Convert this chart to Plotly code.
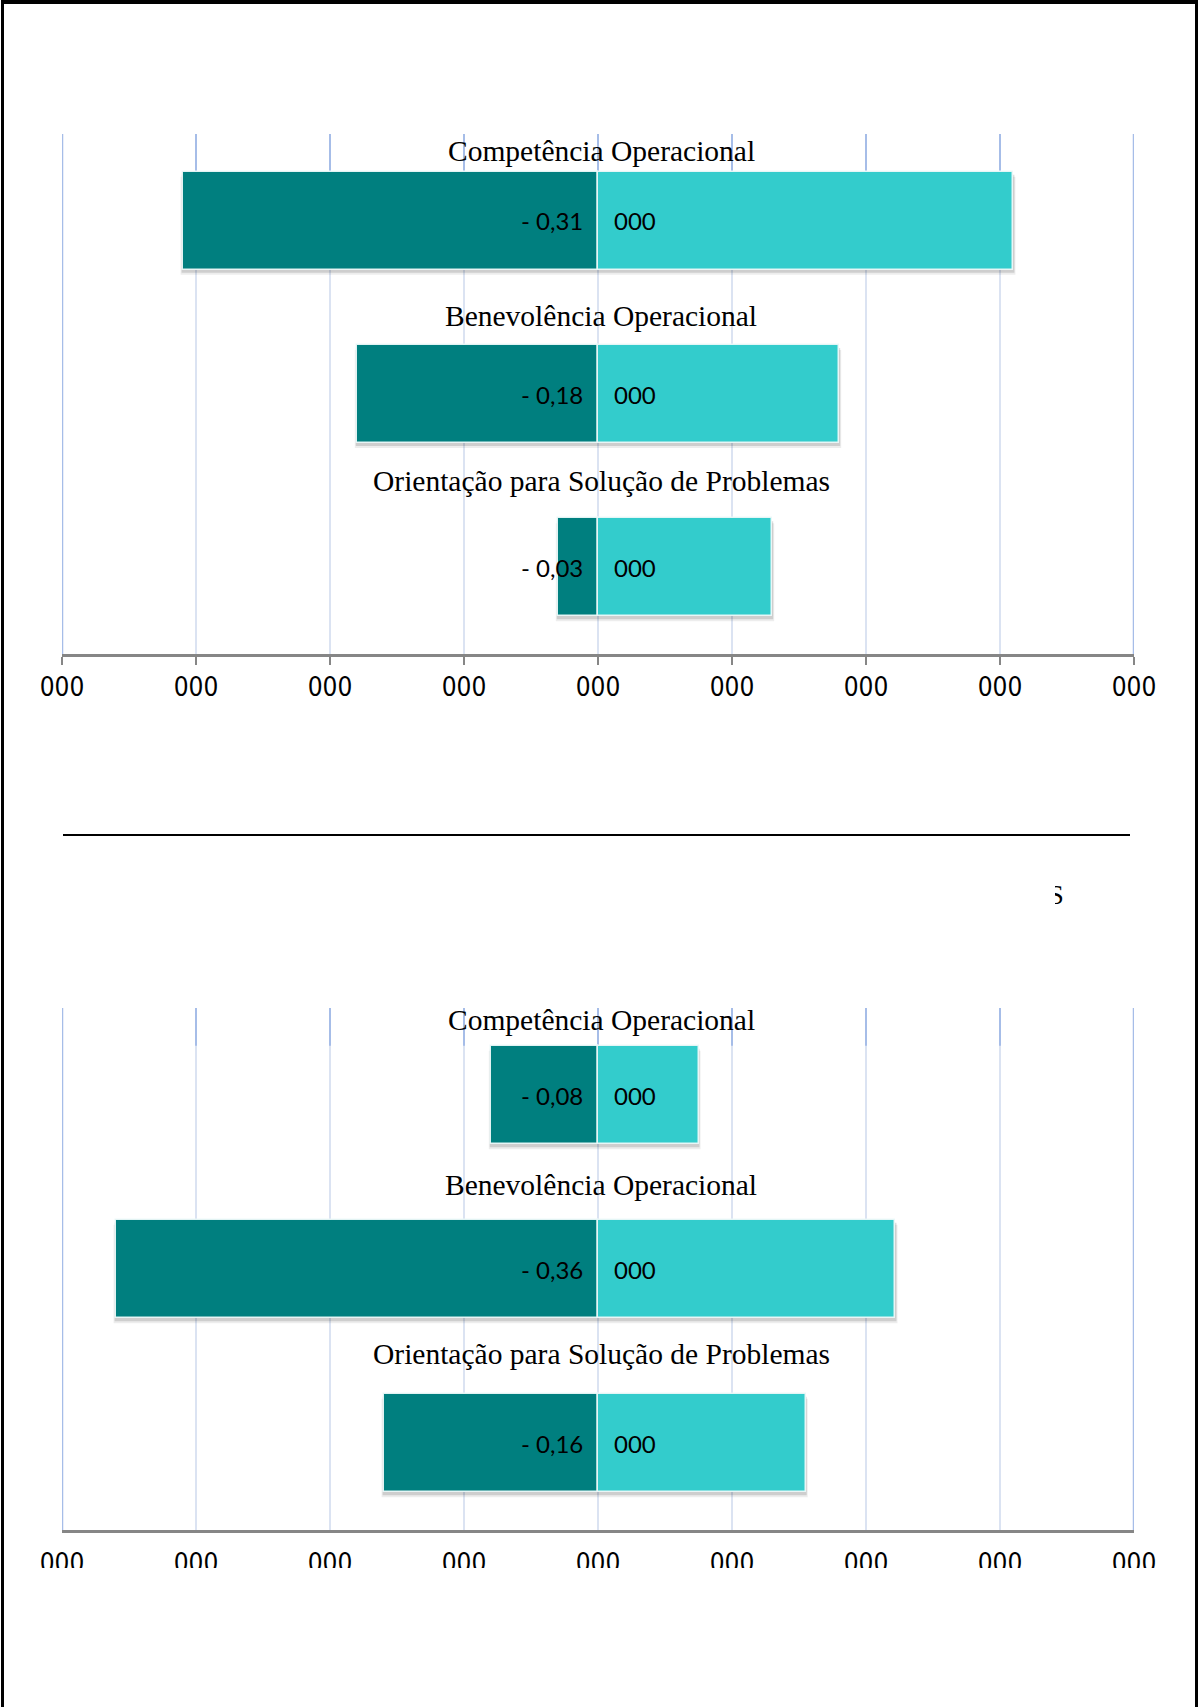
import plotly.graph_objects as go

# --- data -------------------------------------------------------------
CATEGORIES = ["Competência Operacional", "Benevolência Operacional",
              "Orientação para Solução de Problemas"]

TOP_NEG = [-0.31, -0.18, -0.03]
TOP_POS = [0.31, 0.18, 0.13]

BOTTOM_NEG = [-0.08, -0.36, -0.16]
BOTTOM_POS = [0.075, 0.222, 0.155]

POS_LABELS = ["000", "000", "000"]

TICK_VALUES = [-0.4, -0.3, -0.2, -0.1, 0.0, 0.1, 0.2, 0.3, 0.4]
TICK_LABELS = ["000"] * 9

# --- styling ------------------------------------------------------------
W, H = 1200, 1707
DARK = "#007f7f"
LIGHT = "#33cccc"
GRID = "#dbe3f2"
GRID_STRONG = "#a6bde8"
AXIS = "#868686"
BAR_W = 0.565
SERIF = "Liberation Serif, Times New Roman, serif"
SANS = "Lato, Carlito, Liberation Sans, sans-serif"
NARROW = "Liberation Sans Narrow, Arial Narrow, DejaVu Sans Condensed, sans-serif"

X_DOM = [62 / W, 1134 / W]
TOP_DOM = [1 - 654 / H, 1 - 134 / H]
BOT_DOM = [1 - 1530 / H, 1 - 1008 / H]

# distance (in category units) of each title above its bar centre
TITLE_OFFSETS_TOP = [0.40, 0.45, 0.50]
TITLE_OFFSETS_BOTTOM = [0.43, 0.48, 0.51]


def py(y):
    """pixel row -> paper y"""
    return 1 - y / H


fig = go.Figure()
shapes = []
annotations = []

panels = [
    ("x", "y", TOP_NEG, TOP_POS, TOP_DOM, TITLE_OFFSETS_TOP),
    ("x2", "y2", BOTTOM_NEG, BOTTOM_POS, BOT_DOM, TITLE_OFFSETS_BOTTOM),
]

idx = list(range(len(CATEGORIES)))
for xr, yr, neg, pos, dom, title_off in panels:
    fig.add_trace(go.Bar(
        x=neg, y=idx, orientation="h", width=BAR_W, xaxis=xr, yaxis=yr,
        marker=dict(color=DARK, line=dict(color="rgba(235,248,248,0.95)", width=1.5)),
        hoverinfo="skip", showlegend=False))
    fig.add_trace(go.Bar(
        x=pos, y=idx, orientation="h", width=BAR_W, xaxis=xr, yaxis=yr,
        marker=dict(color=LIGHT, line=dict(color="rgba(235,248,248,0.95)", width=1.5)),
        hoverinfo="skip", showlegend=False))

    # pixel scale of this panel, used for the soft drop shadows
    px_per_x = (X_DOM[1] - X_DOM[0]) * W / 0.8
    px_per_y = (dom[1] - dom[0]) * H / 3.0
    for i, (n, p) in enumerate(zip(neg, pos)):
        for off, grow, alpha in [(5, 2, 0.07), (3, 1, 0.13)]:
            shapes.append(dict(
                type="rect", xref=xr, yref=yr, layer="between",
                x0=n - grow / px_per_x, x1=p + grow / px_per_x,
                y0=i - BAR_W / 2 + off / px_per_y, y1=i + BAR_W / 2 + off / px_per_y,
                fillcolor=f"rgba(0,0,0,{alpha})", line=dict(width=0)))
        # value labels either side of the centre line
        annotations.append(dict(
            x=0, y=i, xref=xr, yref=yr, xanchor="right", yanchor="middle",
            xshift=-13, showarrow=False,
            text="- " + f"{abs(n):.2f}".replace(".", ","),
            font=dict(family=SANS, size=24, color="#000000")))
        annotations.append(dict(
            x=0, y=i, xref=xr, yref=yr, xanchor="left", yanchor="middle",
            xshift=14, showarrow=False, text=POS_LABELS[i],
            font=dict(family=SANS, size=24, color="#000000")))
        # category title above each bar
        annotations.append(dict(
            x=0, y=i - title_off[i], xref=xr, yref=yr,
            xanchor="center", yanchor="middle",
            xshift=3, showarrow=False, text=CATEGORIES[i],
            font=dict(family=SERIF, size=29.5, color="#000000")))

    # stronger blue on the grid segments above the first bar
    for tv in TICK_VALUES:
        shapes.append(dict(
            type="line", xref=xr, yref=yr, layer="between",
            x0=tv, x1=tv, y0=-0.5, y1=-BAR_W / 2,
            line=dict(color=GRID_STRONG, width=2)))
    # outer grid lines drawn in the stronger blue
    for tv in (TICK_VALUES[0], TICK_VALUES[-1]):
        shapes.append(dict(
            type="line", xref=xr, yref=yr, layer="between",
            x0=tv, x1=tv, y0=-0.5, y1=2.5,
            line=dict(color=GRID_STRONG, width=2.5)))

xaxis_common = dict(
    range=[-0.4, 0.4], domain=X_DOM, tickmode="array",
    tickvals=TICK_VALUES, ticktext=TICK_LABELS,
    showgrid=True, gridcolor=GRID, gridwidth=2, zeroline=False,
    showline=True, linecolor=AXIS, linewidth=3,
    ticklen=8, tickwidth=2, automargin=False,
    tickfont=dict(family=NARROW, size=26, color="#000000"),
    fixedrange=True)
yaxis_common = dict(range=[2.5, -0.5], showgrid=False, zeroline=False,
                    showticklabels=False, showline=False, fixedrange=True,
                    automargin=False)

fig.update_layout(
    width=W, height=H, autosize=False,
    margin=dict(l=0, r=0, t=0, b=0, pad=0, autoexpand=False),
    paper_bgcolor="white", plot_bgcolor="rgba(0,0,0,0)",
    barmode="relative", bargap=0, showlegend=False,
    xaxis=dict(**xaxis_common, anchor="y", ticks="outside", tickcolor=AXIS),
    yaxis=dict(**yaxis_common, domain=TOP_DOM, anchor="x"),
    xaxis2=dict(**xaxis_common, anchor="y2", ticks="outside",
                tickcolor="rgba(0,0,0,0)"),
    yaxis2=dict(**yaxis_common, domain=BOT_DOM, anchor="x2"),
    xaxis3=dict(domain=[0, 1], range=[0, W], visible=False, anchor="y3",
                fixedrange=True),
    yaxis3=dict(domain=[0, 1], range=[H, 0], visible=False, anchor="x3",
                fixedrange=True),
)

# stray fragment of a clipped letter to the right, between the panels
fig.add_trace(go.Scatter(
    x=[1056], y=[897], xaxis="x3", yaxis="y3", mode="text", text=["S"],
    textfont=dict(family=SERIF, size=28, color="#000000"),
    hoverinfo="skip", showlegend=False))

# page frame, separator rule and the white cut at the bottom
shapes += [
    dict(type="rect", xref="paper", yref="paper", layer="above",
         x0=1030 / W, x1=1055 / W, y0=py(915), y1=py(880),
         fillcolor="white", line=dict(width=0)),
    dict(type="rect", xref="paper", yref="paper", layer="above",
         x0=8 / W, x1=1192 / W, y0=py(1610), y1=py(1568),
         fillcolor="white", line=dict(width=0)),
    dict(type="line", xref="paper", yref="paper", layer="above",
         x0=63 / W, x1=1130 / W, y0=py(835), y1=py(835),
         line=dict(color="#000000", width=2)),
    dict(type="rect", xref="paper", yref="paper", layer="above",
         x0=1 / W, x1=1198 / W, y0=py(4), y1=1,
         fillcolor="#000000", line=dict(width=0)),
    dict(type="rect", xref="paper", yref="paper", layer="above",
         x0=1 / W, x1=4 / W, y0=0, y1=1,
         fillcolor="#000000", line=dict(width=0)),
    dict(type="rect", xref="paper", yref="paper", layer="above",
         x0=1195 / W, x1=1198 / W, y0=0, y1=1,
         fillcolor="#000000", line=dict(width=0)),
]

fig.update_layout(shapes=shapes, annotations=annotations)
fig.write_html("out.html", config={"responsive": False})
